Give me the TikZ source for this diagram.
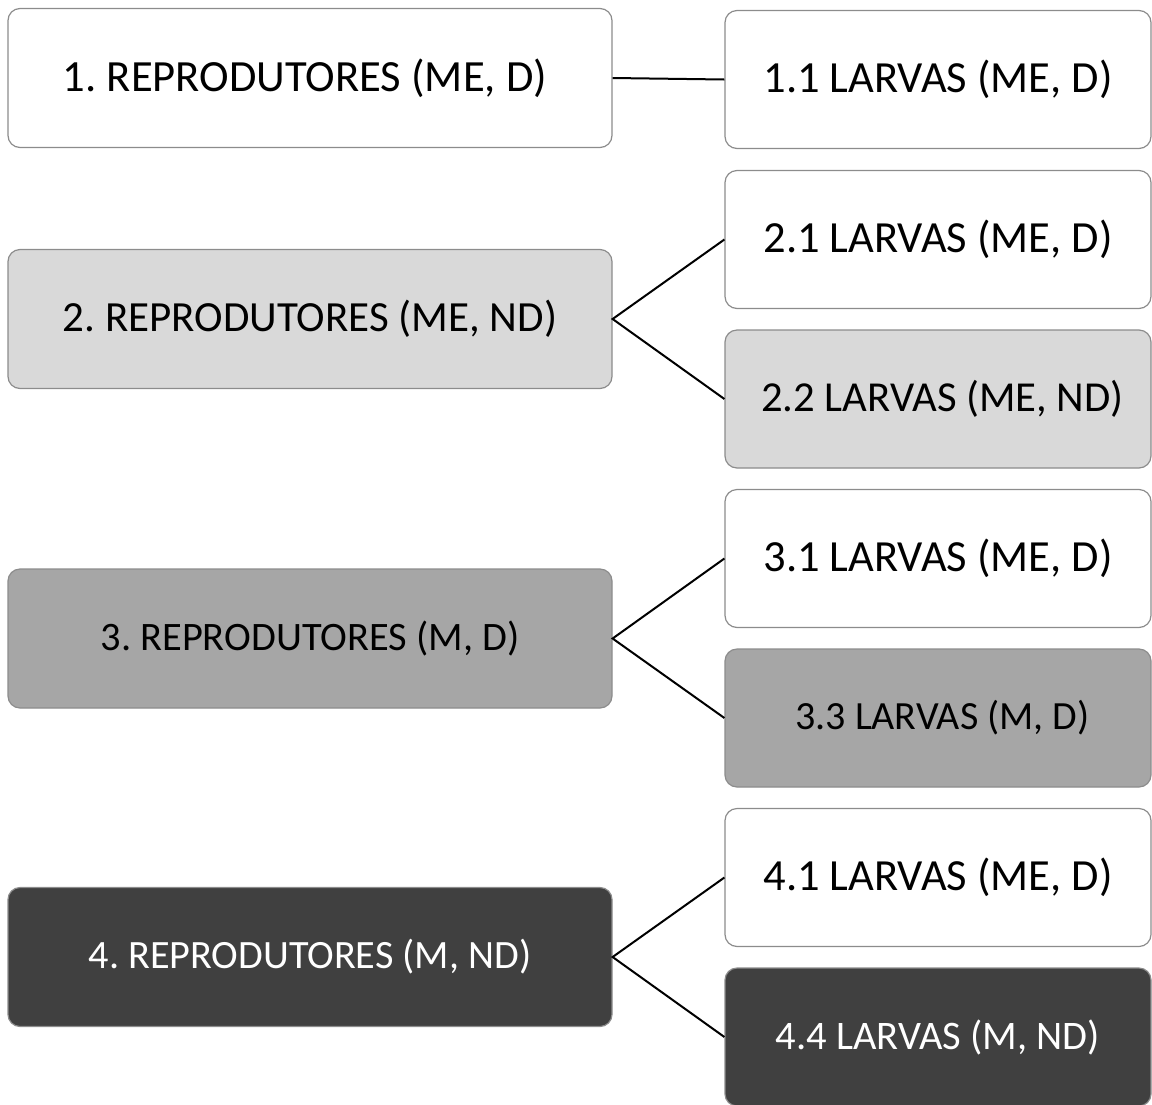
\documentclass[tikz,border=0pt]{standalone}
\usepackage{fontspec}
\setmainfont{Carlito}
\frenchspacing
\definecolor{lg}{HTML}{D9D9D9}
\definecolor{mg}{HTML}{A6A6A6}
\definecolor{dg}{HTML}{404040}
\definecolor{bd}{HTML}{8C8C8C}
\newcommand{\fs}[1]{\fontsize{#1}{#1}\selectfont}
\begin{document}
\begin{tikzpicture}[x=1pt,y=-1pt,
  box/.style={draw=bd,line width=1.2pt,rounded corners=12pt,inner sep=0pt},
  lbox/.style={box,minimum width=604pt,minimum height=139pt},
  rbox/.style={box,minimum width=426pt,minimum height=138pt},
  conn/.style={draw=black,line width=2pt}]
\useasboundingbox (0,0) rectangle (1152,1104);
\node[lbox,fill=white,font=\fs{44.6}] (b1) at (310,78) {\hspace*{-10pt}1. REPRODUTORES (ME, D)};
\node[lbox,fill=lg,font=\fs{43}] (b2) at (310,319) {2. REPRODUTORES (ME, ND)};
\node[lbox,fill=mg,font=\fs{40.4}] (b3) at (310,638.5) {3. REPRODUTORES (M, D)};
\node[lbox,fill=dg,text=white,font=\fs{40.2}] (b4) at (310,957) {4. REPRODUTORES (M, ND)};
\node[rbox,fill=white,font=\fs{44.5}] (r11) at (938,79.5) {1.1 LARVAS (ME, D)};
\node[rbox,fill=white,font=\fs{44.5}] (r21) at (938,239.5) {2.1 LARVAS (ME, D)};
\node[rbox,fill=lg,font=\fs{42.7}] (r22) at (938,399) {\hspace*{9pt}2.2 LARVAS (ME, ND)};
\node[rbox,fill=white,font=\fs{44.5}] (r31) at (938,558.5) {3.1 LARVAS (ME, D)};
\node[rbox,fill=mg,font=\fs{40}] (r33) at (938,718) {\hspace*{9pt}3.3 LARVAS (M, D)};
\node[rbox,fill=white,font=\fs{44.5}] (r41) at (938,877.5) {4.1 LARVAS (ME, D)};
\node[rbox,fill=dg,text=white,font=\fs{40.5}] (r44) at (938,1037) {4.4 LARVAS (M, ND)};
\draw[conn] (b1.east) -- (r11.west);
\draw[conn] (r21.west) -- (b2.east) -- (r22.west);
\draw[conn] (r31.west) -- (b3.east) -- (r33.west);
\draw[conn] (r41.west) -- (b4.east) -- (r44.west);
\end{tikzpicture}
\end{document}
